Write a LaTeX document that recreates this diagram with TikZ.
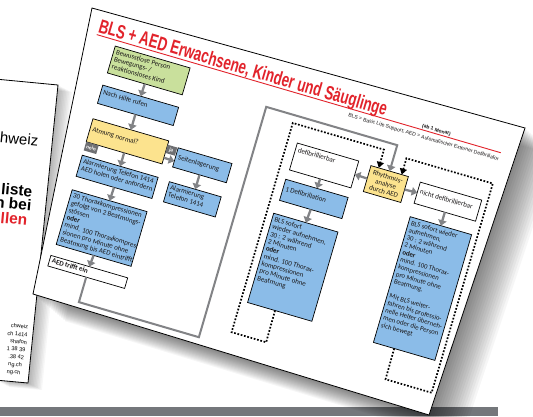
\documentclass[tikz,border=0pt]{standalone}
\usepackage{fontspec}
\setmainfont{Liberation Sans}
\newfontfamily\cardfont{Carlito}
\usetikzlibrary{arrows.meta}

\definecolor{titlered}{HTML}{E2232B}
\definecolor{boxgreen}{HTML}{C9E09C}
\definecolor{boxblue}{HTML}{8BBCE8}
\definecolor{boxyellow}{HTML}{FCE38E}
\definecolor{flowgray}{HTML}{828386}
\definecolor{tabgray}{HTML}{6E6F72}
\definecolor{bargray}{HTML}{74777B}
\definecolor{inkgray}{HTML}{1A1718}

\tikzset{
  sheet/.style={fill=white, draw=black, line width=0.8pt, line join=miter},
  flowbox/.style={draw=black, line width=0.7pt, anchor=north west, inner sep=0pt, outer sep=0pt},
  greenbox/.style={flowbox, fill=boxgreen},
  bluebox/.style={flowbox, fill=boxblue},
  yellowbox/.style={flowbox, fill=boxyellow},
  whitebox/.style={flowbox, fill=white},
  boxtext/.style={anchor=north west, inner sep=0pt, align=left, text=inkgray, font=\cardfont\fontsize{7}{7.6}\selectfont},
  tabnode/.style={fill=tabgray, anchor=north west, inner sep=0pt, outer sep=0pt, text=white, font=\cardfont\bfseries\fontsize{5.4}{6}\selectfont},
  flow/.style={draw=flowgray, line width=2.3pt, -{Triangle[width=8.5pt,length=5.5pt]}},
  frameline/.style={draw=flowgray, line width=2pt, line join=miter, -{Triangle[width=8.5pt,length=5.5pt]}},
  dotloop/.style={draw=black, line width=1.7pt, dash pattern=on 1.7pt off 1.7pt, line join=miter, -{Triangle[width=7pt,length=6pt]}},
  leaflet/.style={inner sep=0pt, rotate=-5.3, anchor=base east},
}

\begin{document}
\begin{tikzpicture}[x=1pt, y=-1pt]
\useasboundingbox (0,0) rectangle (533,416);
\fill[white] (0,0) rectangle (533,416);

% grey strip along the bottom
\fill[bargray] (0,407) rectangle (498,416);

% leaflet lying underneath, with its soft shadow
\foreach \i in {1,...,10}
  \fill[black, opacity=0.03, shift={(\i*1.4,\i*0.7)}] (-5,79) -- (58,85) -- (28,383) -- (-5,380) -- cycle;
\draw[sheet] (-5,79) -- (58,85) -- (28,383) -- (-5,380) -- cycle;
\node[leaflet, font=\fontsize{15}{16}\selectfont] (lf1) at (38,146) {hweiz};
\node[leaflet, font=\bfseries\fontsize{15.5}{16}\selectfont] (lf2) at (32,197) {liste};
\node[leaflet, font=\bfseries\fontsize{15.5}{16}\selectfont] (lf3) at (31,211) {n bei};
\node[leaflet, font=\bfseries\fontsize{15.5}{16}\selectfont, text=titlered] (lf4) at (27,225.5) {illen};
\node[leaflet, font=\fontsize{5.6}{6}\selectfont] (lf5) at (28,329) {chweiz};
\node[leaflet, font=\fontsize{5.6}{6}\selectfont] (lf6) at (27.5,337) {ch 1414};
\node[leaflet, font=\fontsize{5.6}{6}\selectfont] (lf7) at (27,344.5) {shafon};
\node[leaflet, font=\fontsize{5.6}{6}\selectfont] (lf8) at (25.5,352) {1 38 39};
\node[leaflet, font=\fontsize{5.6}{6}\selectfont] (lf9) at (24,359.5) {.38 42};
\node[leaflet, font=\fontsize{5.6}{6}\selectfont] (lf10) at (22,367) {ng.ch};
\node[leaflet, font=\fontsize{5.6}{6}\selectfont] (lf11) at (20.5,374.5) {ng.ch};

% the algorithm card: shadow, then sheet
\foreach \i in {1,...,16}
  \fill[black, opacity=0.035, shift={(\i*2,\i*1.7)}] (92,8) -- (525,128) -- (429,415) -- (33,294) -- cycle;
\draw[sheet] (92,8) -- (525,128) -- (429,415) -- (33,294) -- cycle;

\begin{scope}[shift={(92,8)}, rotate=-16.3, transform shape]
  % heading
  \node[anchor=base west, inner sep=0pt, text=titlered, font=\bfseries\fontsize{19.5}{20}\selectfont] (title) at (12,21.5)
    {\scalebox{0.69}[1]{BLS + AED Erwachsene, Kinder und Säuglinge}};
  \node[anchor=base west, inner sep=0pt, text=inkgray, font=\bfseries\fontsize{5}{6}\selectfont] (age) at (350,22) {(ab 1 Monat)};
  \draw[titlered, line width=0.9pt] (12,24.2) -- (433,24.2);
  \node[anchor=base east, inner sep=0pt, text=inkgray, font=\fontsize{5.1}{6}\selectfont] (abbr) at (433,32.5)
    {BLS = Basic Life Support; AED = Automatischer Externer Defibrillator};

  % left column
  \node[greenbox, minimum width=78pt, minimum height=28pt] (start) at (33,30) {};
  \node[boxtext] (start-t) at (35.5,32.5) {Bewusstlose Person\\Bewegungs- /\\reaktionsloses Kind};
  \node[bluebox, minimum width=79pt, minimum height=19pt] (call) at (32,71) {};
  \node[boxtext] (call-t) at (34.5,75) {Nach Hilfe rufen};
  \node[yellowbox, minimum width=79pt, minimum height=24pt] (breath) at (32,106) {};
  \node[boxtext] (breath-t) at (34.5,113.5) {Atmung normal?};
  \node[tabnode, minimum width=13pt, minimum height=9pt] (no) at (32,130) {nein};
  \node[tabnode, minimum width=10pt, minimum height=8.5pt] (yes) at (111,110) {ja};
  \node[bluebox, minimum width=79pt, minimum height=22pt] (alarm) at (32,144) {};
  \node[boxtext] (alarm-t) at (34.5,146.5) {Alarmierung Telefon 1414\\AED holen oder anfordern};
  \node[bluebox, minimum width=56pt, minimum height=20pt] (side) at (122,110) {};
  \node[boxtext] (side-t) at (124.5,116) {Seitenlagerung};
  \node[bluebox, minimum width=54pt, minimum height=21pt] (alarmb) at (123,145) {};
  \node[boxtext] (alarmb-t) at (125.5,147.5) {Alarmierung\\Telefon 1414};
  \node[bluebox, minimum width=78pt, minimum height=57pt] (cpr) at (32,180) {};
  \node[boxtext] (cpr-t) at (34.5,182.5) {30 Thoraxkompressionen\\gefolgt von 2 Beatmungs-\\stössen\\\textbf{oder}\\mind. 100 Thoraxkompres-\\sionen pro Minute ohne\\Beatmung bis AED eintrifft};
  \node[whitebox, minimum width=80pt, minimum height=11pt] (aed) at (30,249) {};
  \node[boxtext, font=\cardfont\bfseries\fontsize{7}{7.6}\selectfont] (aed-t) at (32.5,251) {AED trifft ein};

  % rhythm analysis and the two branches
  \node[yellowbox, minimum width=39pt, minimum height=27pt] (rhythm) at (312,73) {};
  \node[boxtext, anchor=center, align=center] (rhythm-t) at (rhythm.center) {Rhythmus-\\analyse\\durch AED};
  \node[whitebox, minimum width=64pt, minimum height=28pt] (shock) at (235,72) {};
  \node[boxtext] (shock-t) at (237.5,75.5) {defibrillierbar};
  \node[whitebox, minimum width=64pt, minimum height=22pt] (noshock) at (364,75) {};
  \node[boxtext] (noshock-t) at (366.5,81.5) {nicht defibrillierbar};
  \node[bluebox, minimum width=65pt, minimum height=22pt] (defib) at (234,110) {};
  \node[boxtext] (defib-t) at (236.5,116.5) {1 Defibrillation};
  \node[bluebox, minimum width=67pt, minimum height=93pt] (bls) at (232,146) {};
  \node[boxtext] (bls-t) at (234.5,149) {BLS sofort\\wieder aufnehmen,\\30 : 2 während\\2 Minuten\\\textbf{oder}\\mind. 100 Thorax-\\kompressionen\\pro Minute ohne\\Beatmung};
  \node[bluebox, minimum width=64pt, minimum height=131pt] (blsb) at (364,111) {};
  \node[boxtext, font=\cardfont\fontsize{6.8}{7.6}\selectfont] (blsb-t) at (366.5,114) {BLS sofort wieder\\aufnehmen,\\30 : 2 während\\2 Minuten\\\textbf{oder}\\mind. 100 Thorax-\\kompressionen\\pro Minute ohne\\Beatmung.\\[7.6pt]Mit BLS weiter-\\fahren bis professio-\\nelle Helfer überneh-\\men oder die Person\\sich bewegt};

  % grey flow arrows
  \draw[flow] (start.south) -- (call.north);
  \draw[flow] (call.south) -- (breath.north);
  \draw[flow] (breath.south) -- (alarm.north);
  \draw[flow] (breath.-8.6) -- (side.188);
  \draw[flow] (side.south) -- (alarmb.north);
  \draw[flow] (alarm.south) -- (cpr.north);
  \draw[flow] (cpr.south) -- (aed.north);
  \draw[flow] (rhythm.west) -- (shock.east);
  \draw[flow] (rhythm.east) -- (noshock.west);
  \draw[flow] (shock.south) -- (defib.north);
  \draw[flow] (defib.south) -- (bls.north);
  \draw[flow] (noshock.south) -- (blsb.north);

  % from the AED arrival round to the rhythm analysis
  \coordinate (fa) at (70,286);
  \coordinate (fb) at (195,286);
  \coordinate (fc) at (195,46);
  \coordinate (fd) at (331.5,46);
  \draw[frameline] (aed.south) -- (fa) -- (fb) -- (fc) -- (fd) -- (rhythm.north);

  % dotted returns after two minutes
  \coordinate (la) at (261,272);
  \coordinate (lb) at (225,272);
  \coordinate (lc) at (225,54);
  \coordinate (ld) at (320,54);
  \draw[dotloop] (bls.264.5) -- (la) -- (lb) -- (lc) -- (ld) -- (rhythm.130.4);
  \coordinate (ra) at (386,274);
  \coordinate (rb) at (434,274);
  \coordinate (rc) at (434,56);
  \coordinate (rd) at (344,56);
  \draw[dotloop] (blsb.261.75) -- (ra) -- (rb) -- (rc) -- (rd) -- (rhythm.47.2);
\end{scope}
\end{tikzpicture}
\end{document}
